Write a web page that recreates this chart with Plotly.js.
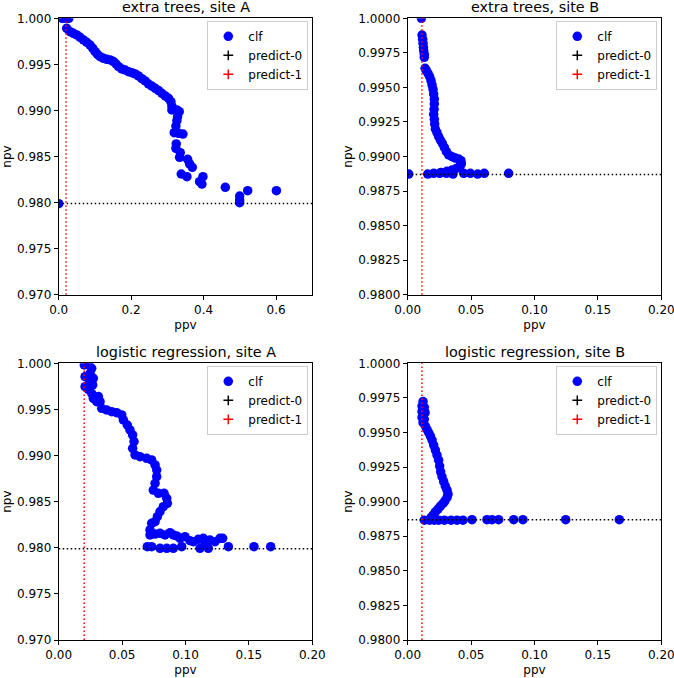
<!DOCTYPE html>
<html>
<head>
<meta charset="utf-8">
<script src="https://cdn.plot.ly/plotly-3.0.1.min.js"></script>
<style>html,body{margin:0;padding:0;background:#fff;}#chart{width:674px;height:678px;}</style>
</head>
<body>
<div id="chart"></div>
<script>
// ---------- data ----------
var panelTitles = ["extra trees, site A", "extra trees, site B", "logistic regression, site A", "logistic regression, site B"];
var seriesNames = ["clf", "predict-0", "predict-1"];

// tick labels
var xTicksWide = [0.0, 0.2, 0.4, 0.6];
var xTicksNarrow = [0.00, 0.05, 0.10, 0.15, 0.20];
var yTicksA = [0.970, 0.975, 0.980, 0.985, 0.990, 0.995, 1.000];
var yTicksB = [0.9800, 0.9825, 0.9850, 0.9875, 0.9900, 0.9925, 0.9950, 0.9975, 1.0000];

// reference levels
var siteA_prevalence = 0.0201;   // ppv of always predicting 1
var siteA_baseline = 0.9799;     // npv of always predicting 0
var siteB_prevalence = 0.0112;
var siteB_baseline = 0.98870;

// extra trees, site A
var etA_ppv = [0.010,0.020,0.028,0.0221,0.0313,0.0406,0.0498,0.059,0.0682,0.0774,0.0866,0.094,0.1005,0.1069,0.1143,0.1235,0.1327,0.1419,0.1512,0.1585,0.165,0.1742,0.1834,0.1926,0.2018,0.2111,0.2203,0.2295,0.2387,0.2479,0.2571,0.2664,0.2756,0.2848,0.294,0.3032,0.3097,0.3124,0.3124,0.3263,0.3327,0.3281,0.3263,0.3235,0.3189,0.3309,0.3429,0.3244,0.3235,0.3355,0.3336,0.3558,0.3613,0.3687,0.3382,0.3539,0.3889,0.3982,0.3954,0.4599,0.4995,0.4995,0.4995,0.5217,0.6009,0.0];
var etA_npv = [1.0000,1.0000,1.0000,0.99891,0.99855,0.99837,0.99819,0.99794,0.99765,0.99739,0.9971,0.99674,0.99638,0.99609,0.99584,0.99566,0.99555,0.99548,0.9953,0.99504,0.99475,0.9945,0.99439,0.99421,0.9941,0.99396,0.99374,0.99345,0.9932,0.99287,0.99265,0.9924,0.99215,0.99186,0.99157,0.99131,0.99095,0.99048,0.99005,0.99005,0.98987,0.98932,0.98889,0.98831,0.98759,0.98751,0.98744,0.98636,0.98589,0.98542,0.98491,0.98469,0.98419,0.98382,0.9831,0.98281,0.98227,0.98281,0.98201,0.98165,0.98071,0.98028,0.97999,0.98129,0.98129,0.97988];

// extra trees, site B
var etB_ppv = [0.0108,0.0113,0.0118,0.0121,0.0124,0.0126,0.0131,0.0131,0.0137,0.0147,0.016,0.0173,0.0184,0.0192,0.020,0.0205,0.021,0.021,0.0208,0.0205,0.021,0.0213,0.0218,0.0231,0.0244,0.0258,0.0273,0.0289,0.0305,0.0323,0.035,0.0376,0.0402,0.042,0.0423,0.041,0.0384,0.035,0.031,0.0263,0.0008,0.0158,0.0205,0.0252,0.0305,0.0357,0.0442,0.0494,0.0552,0.0604,0.0796];
var etB_npv = [1.0000,0.99879,0.99848,0.99819,0.9979,0.99766,0.99739,0.99718,0.99638,0.99621,0.99602,0.99578,0.99549,0.99518,0.99486,0.99452,0.99416,0.9938,0.99341,0.99305,0.99269,0.99235,0.99199,0.99172,0.99144,0.99119,0.99095,0.99066,0.99035,0.99011,0.98999,0.98989,0.98982,0.9897,0.98946,0.98926,0.98914,0.98902,0.98893,0.98885,0.98873,0.98873,0.98878,0.98878,0.98878,0.98873,0.98878,0.98878,0.98873,0.98878,0.98878];

// logistic regression, site A
var lrA_ppv = [0.0202,0.0234,0.026,0.0247,0.0208,0.0242,0.0273,0.0208,0.0234,0.0268,0.026,0.0273,0.0313,0.0326,0.030,0.0339,0.0378,0.0418,0.0457,0.0497,0.051,0.0541,0.0562,0.0583,0.0594,0.0583,0.0602,0.0641,0.0694,0.0733,0.076,0.0773,0.0773,0.076,0.0746,0.0786,0.0831,0.0852,0.0857,0.0825,0.0799,0.0778,0.076,0.0733,0.072,0.072,0.076,0.0799,0.0838,0.0878,0.0904,0.093,0.0957,0.0996,0.1035,0.1062,0.1101,0.1141,0.1154,0.1193,0.1233,0.1272,0.1293,0.0699,0.0733,0.0799,0.0852,0.0904,0.097,0.1114,0.118,0.1338,0.154,0.1672];
var lrA_npv = [0.99982,1.0000,0.99946,0.99892,0.99855,0.99819,0.99837,0.99747,0.99718,0.99765,0.99675,0.9962,0.99639,0.99584,0.99584,0.99512,0.99494,0.99476,0.99465,0.9944,0.99386,0.99331,0.99277,0.99223,0.99151,0.99078,0.99006,0.98988,0.9897,0.98952,0.98898,0.98843,0.98771,0.98699,0.98626,0.9859,0.9859,0.98536,0.98482,0.98446,0.98392,0.98337,0.98283,0.98265,0.98193,0.98139,0.98149,0.98157,0.98139,0.98164,0.98139,0.98128,0.98102,0.9812,0.98077,0.98066,0.98092,0.98102,0.98066,0.98084,0.98066,0.98102,0.98102,0.98012,0.98012,0.97994,0.97994,0.97994,0.98012,0.97994,0.97994,0.98012,0.98012,0.98012];

// logistic regression, site B
var lrB_ppv = [0.0121,0.0113,0.0131,0.0113,0.0137,0.0113,0.0131,0.0121,0.0139,0.0152,0.0166,0.0179,0.0192,0.0205,0.0218,0.0231,0.0244,0.0252,0.026,0.0271,0.0284,0.0297,0.031,0.0318,0.031,0.0294,0.0279,0.0258,0.0239,0.0218,0.020,0.0184,0.0131,0.0173,0.021,0.0244,0.0289,0.0342,0.0389,0.0436,0.0507,0.0625,0.0665,0.0717,0.0836,0.0909,0.1246,0.1669];
var lrB_npv = [0.99723,0.99691,0.99682,0.9965,0.99643,0.99609,0.99595,0.99571,0.99546,0.99522,0.99498,0.99474,0.99445,0.99409,0.99373,0.99337,0.993,0.99257,0.99216,0.9918,0.99144,0.99112,0.99083,0.99054,0.9903,0.99006,0.98987,0.98967,0.98946,0.98926,0.98902,0.98885,0.98866,0.98866,0.98866,0.98866,0.98866,0.98866,0.98866,0.98866,0.98870,0.98870,0.98870,0.98870,0.98870,0.98870,0.98870,0.98870];

// predict-0 / predict-1 reference models (undefined ppv / npv, so not drawn)
var predict0_ppv = [null];
var predict1_npv = [null];

// ---------- build ----------
var FONT = "DejaVu Sans, Liberation Sans, sans-serif";
var panels = [
  {ppv: etA_ppv, npv: etA_npv, prev: siteA_prevalence, base: siteA_baseline},
  {ppv: etB_ppv, npv: etB_npv, prev: siteB_prevalence, base: siteB_baseline},
  {ppv: lrA_ppv, npv: lrA_npv, prev: siteA_prevalence, base: siteA_baseline},
  {ppv: lrB_ppv, npv: lrB_npv, prev: siteB_prevalence, base: siteB_baseline}
];
var xRanges = [[0, 0.7], [0, 0.2], [0, 0.2], [0, 0.2]];
var yRanges = [[0.970, 1.000], [0.980, 1.000], [0.970, 1.000], [0.980, 1.000]];
var xTicks = [xTicksWide, xTicksNarrow, xTicksNarrow, xTicksNarrow];
var yTicks = [yTicksA, yTicksB, yTicksA, yTicksB];
var xFormats = [".1f", ".2f", ".2f", ".2f"];
var yFormats = [".3f", ".4f", ".3f", ".4f"];

var W = 674, H = 678;
var xDom = [[58.7, 312.3], [407.7, 661.3], [58.7, 312.3], [407.7, 661.3]];
var yDom = [[18.3, 294.7], [18.3, 294.7], [363.3, 640], [363.3, 640]];

var data = [], shapes = [], annotations = [];
var layout = {
  width: W, height: H,
  margin: {l: 0, r: 0, t: 0, b: 0},
  paper_bgcolor: "#ffffff", plot_bgcolor: "#ffffff",
  font: {family: FONT, size: 12, color: "#000000"},
  showlegend: true
};

panels.forEach(function (p, i) {
  var n = i + 1;
  var xa = "x" + (n === 1 ? "" : n), ya = "y" + (n === 1 ? "" : n);
  var xk = "xaxis" + (n === 1 ? "" : n), yk = "yaxis" + (n === 1 ? "" : n);
  var lg = "legend" + (n === 1 ? "" : n);
  var axCommon = {
    showgrid: false, zeroline: false, showline: true, mirror: true,
    linecolor: "#000000", linewidth: 1, ticks: "outside", ticklen: 4,
    tickwidth: 1, tickcolor: "#000000", automargin: false,
    ticklabeloverflow: "allow",
    tickfont: {family: FONT, size: 12, color: "#000000"}
  };
  layout[xk] = Object.assign({}, axCommon, {
    domain: [xDom[i][0] / W, xDom[i][1] / W], anchor: ya,
    range: xRanges[i], tickmode: "array", tickvals: xTicks[i], tickformat: xFormats[i],
    title: {text: "ppv", font: {family: FONT, size: 12}, standoff: 4}
  });
  layout[yk] = Object.assign({}, axCommon, {
    domain: [1 - yDom[i][1] / H, 1 - yDom[i][0] / H], anchor: xa,
    range: yRanges[i], tickmode: "array", tickvals: yTicks[i], tickformat: yFormats[i],
    title: {text: "npv", font: {family: FONT, size: 12}, standoff: 3}
  });
  var legX = (xDom[i][0] + 148.6) / W;
  var legY = 1 - (yDom[i][0] + 2.5) / H;
  layout[lg] = {
    x: legX, y: legY, xanchor: "left", yanchor: "top",
    bgcolor: "rgba(255,255,255,0.8)", bordercolor: "#cccccc", borderwidth: 1,
    font: {family: FONT, size: 12, color: "#000000"},
    tracegroupgap: 0, itemwidth: 30
  };

  data.push({
    type: "scatter", mode: "markers", x: predict0_ppv, y: [p.base],
    name: seriesNames[1], legend: lg, legendrank: 2, xaxis: xa, yaxis: ya,
    marker: {symbol: "cross-thin", size: 7, color: "#000000", line: {color: "#000000", width: 1.5}},
    hoverinfo: "skip"
  });
  data.push({
    type: "scatter", mode: "markers", x: [p.prev], y: predict1_npv,
    name: seriesNames[2], legend: lg, legendrank: 3, xaxis: xa, yaxis: ya,
    marker: {symbol: "cross-thin", size: 7, color: "#ff0000", line: {color: "#ff0000", width: 1.5}},
    hoverinfo: "skip"
  });
  data.push({
    type: "scatter", mode: "markers", x: p.ppv, y: p.npv,
    name: seriesNames[0], legend: lg, legendrank: 1, xaxis: xa, yaxis: ya,
    marker: {symbol: "circle", size: 9.5, color: "#0000ff", line: {width: 0}},
    cliponaxis: true
  });

  shapes.push({
    type: "line", xref: xa + " domain", yref: ya, x0: 0, x1: 1, y0: p.base, y1: p.base,
    line: {color: "#000000", width: 1.5, dash: "1.5px,2.5px"}, layer: "above"
  });
  shapes.push({
    type: "line", xref: xa, yref: ya + " domain", x0: p.prev, x1: p.prev, y0: 0, y1: 1,
    line: {color: "#ff0000", width: 1.5, dash: "1.5px,2.5px"}, layer: "above"
  });

  annotations.push({
    text: panelTitles[i], xref: "paper", yref: "paper",
    x: (xDom[i][0] + xDom[i][1]) / 2 / W, y: 1 - yDom[i][0] / H,
    xanchor: "center", yanchor: "bottom", yshift: 1, showarrow: false,
    font: {family: FONT, size: 14.4, color: "#000000"}
  });
});

layout.shapes = shapes;
layout.annotations = annotations;

Plotly.newPlot("chart", data, layout, {displayModeBar: false, staticPlot: true});
</script>
</body>
</html>
